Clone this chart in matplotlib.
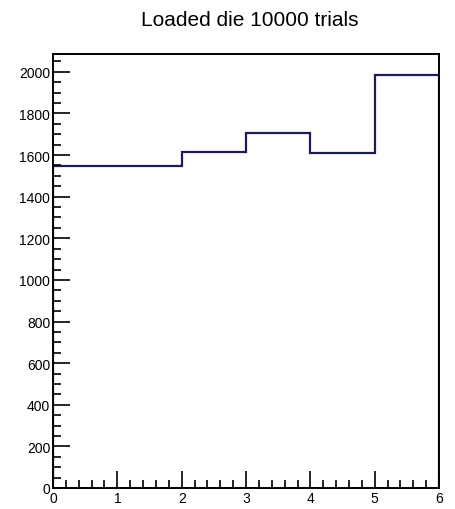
import matplotlib.pyplot as plt
from matplotlib.ticker import MultipleLocator
import numpy as np

# bin edges and counts of the loaded die histogram
edges = [0, 1, 2, 3, 4, 5, 6]
counts = [1546, 1546, 1616, 1704, 1608, 1986]
title = 'Loaded die 10000 trials'

plt.rcParams['font.family'] = ['Liberation Sans', 'DejaVu Sans']

fig = plt.figure(figsize=(4.55, 5.1), dpi=100)
ax = fig.add_axes([0.1165, 0.0412, 0.8485, 0.8508])

ax.stairs(counts, edges, color='#1c1b5c', linewidth=1.6)

ax.set_xlim(0, 6)
ax.set_ylim(0, 1.05 * max(counts))

ax.xaxis.set_major_locator(MultipleLocator(1))
ax.xaxis.set_minor_locator(MultipleLocator(0.2))
ax.yaxis.set_major_locator(MultipleLocator(200))
ax.yaxis.set_minor_locator(MultipleLocator(50))

ax.tick_params(which='both', direction='in', top=False, right=False,
               width=1.2, labelsize=10, colors='black')
ax.tick_params(which='major', length=12, pad=2)
ax.tick_params(which='minor', length=6)

for s in ax.spines.values():
    s.set_linewidth(1.4)

fig.text(0.548, 0.959, title, ha='center', va='center', fontsize=15)

plt.savefig('out.png', dpi=100)
